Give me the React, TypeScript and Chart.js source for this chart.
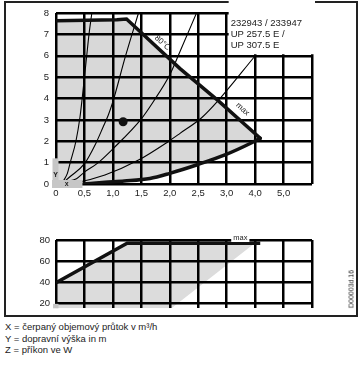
import React, { useEffect, useRef } from 'react';
import { Chart, registerables } from 'chart.js';

Chart.register(...registerables);

const FONT = "'Liberation Sans', Arial, sans-serif";

// tick labels (as printed in the original; grid spacing is 0.5 units)
const X_TICK_LABELS = ['0', '0,5', '1,0', '1,5', '2,0', '2,5', '3,0', '4,0', '5,0', ''];
const Y_TICK_LABELS = ['0', '1', '2', '3', '4', '5', '6', '7', '8'];
const P_TICKS = [20, 40, 60, 80];
const P_MIN = 15.3;

// pump head curves [x, H]
const MAX_CURVE: [number, number][] = [[0, 7.64], [1.07, 7.68], [1.24, 7.72], [2.18, 5.4], [2.85, 3.9], [3.59, 2.14]];
const MIN_CURVE: [number, number][] = [[0.48, 0], [0.86, 0.08], [1.2, 0.14], [1.65, 0.26], [2.0, 0.5], [2.47, 0.89], [2.97, 1.36], [3.44, 1.93], [3.59, 2.14]];

// system (throttle) curves
const CURVE_A: [number, number][] = [[0.12, 0.1], [0.2, 0.5], [0.25, 1], [0.35, 2], [0.42, 3.1], [0.46, 4], [0.5, 5], [0.54, 6], [0.58, 7], [0.63, 8]];
const CURVE_B: [number, number][] = [[0.14, 0.1], [0.25, 0.35], [0.5, 0.95], [0.7, 1.9], [0.83, 2.68], [0.92, 3.23], [1.0, 3.85], [1.22, 5.97], [1.45, 8]];
const CURVE_C: [number, number][] = [[0.16, 0.1], [0.36, 0.25], [0.51, 0.58], [0.72, 0.95], [1.01, 1.67], [1.5, 3.05], [1.71, 3.85], [2.0, 5.11], [2.18, 6.2], [2.47, 8]];
const CURVE_D: [number, number][] = [[0.2, 0.02], [0.33, 0.05], [0.86, 0.42], [1.45, 1.12], [1.97, 1.98], [2.18, 2.37], [2.56, 3.1], [2.85, 3.9], [3.48, 5.93]];

const DUTY_POINT: [number, number][] = [[1.18, 2.91]];

// power curve [x, P]
const POWER_LINE: [number, number][] = [[0, 39.5], [1.25, 77], [3.59, 77]];
const POWER_AREA: [number, number][] = [[0, P_MIN], [0, 39.5], [1.25, 77], [3.47, 76], [2.03, P_MIN]];

const LEGEND_LINES = ['232943 / 233947', 'UP 257.5 E /', 'UP 307.5 E'];
const LEGEND_Y = [7.5, 7.0, 6.5];
const FOOTNOTES = ['X = čerpaný objemový průtok v m³/h', 'Y = dopravní výška in m', 'Z = příkon ve W'];
const DOC_CODE = 'D00003d.16';

const pts = (a: [number, number][]) => a.map(([x, y]) => ({ x, y }));

const FILL_POLY = [[0, 0] as [number, number], ...MAX_CURVE, ...MIN_CURVE.slice().reverse().slice(1)];

const gridOpts = () => ({ color: '#000000', lineWidth: 2.5, drawTicks: false, display: true });

const topDecor = {
  id: 'topDecor',
  beforeDatasetsDraw(chart: any) {
    const { ctx, scales } = chart;
    const x = scales.x, y = scales.y;
    ctx.save();
    const bx = x.getPixelForValue(3.0) + 2;
    ctx.fillStyle = '#fff';
    ctx.fillRect(bx, 0, x.right + 3 - bx, y.getPixelForValue(6) - 1.5);
    ctx.fillStyle = '#222';
    ctx.font = `9.5px ${FONT}`;
    ctx.textAlign = 'left';
    ctx.textBaseline = 'middle';
    LEGEND_LINES.forEach((t, i) => ctx.fillText(t, bx + 2, y.getPixelForValue(LEGEND_Y[i])));
    ctx.restore();
  },
  afterDatasetsDraw(chart: any) {
    const { ctx, scales } = chart;
    const x = scales.x, y = scales.y;
    const l = x.getPixelForValue(0), b = y.getPixelForValue(0);
    ctx.save();
    ctx.fillStyle = '#c6c6c6';
    ctx.fillRect(l - 3.5, y.getPixelForValue(1.2), 6, b - y.getPixelForValue(1.2));
    ctx.fillRect(l - 4, b - 4, x.getPixelForValue(0.5) - l + 2, 8);
    ctx.fillStyle = '#222';
    ctx.font = `bold 7px ${FONT}`;
    ctx.textAlign = 'center';
    ctx.textBaseline = 'middle';
    ctx.fillText('Y', l - 0.5, y.getPixelForValue(0.42));
    ctx.fillText('x', x.getPixelForValue(0.19), b);
    // rotated labels on max curve
    const p1 = MAX_CURVE[2], p2 = MAX_CURVE[MAX_CURVE.length - 1];
    const ang = Math.atan2(y.getPixelForValue(p2[1]) - y.getPixelForValue(p1[1]), x.getPixelForValue(p2[0]) - x.getPixelForValue(p1[0]));
    ctx.font = `8px ${FONT}`;
    const lab = (t: string, vx: number, vy: number) => {
      ctx.save();
      ctx.translate(x.getPixelForValue(vx), y.getPixelForValue(vy));
      ctx.rotate(ang);
      ctx.fillText(t, 0, 0);
      ctx.restore();
    };
    lab('80°C', 1.87, 6.6);
    lab('max', 3.28, 3.5);
    ctx.restore();
  },
};

const bottomDecor = {
  id: 'bottomDecor',
  afterDatasetsDraw(chart: any) {
    const { ctx, scales } = chart;
    const x = scales.x, y = scales.y;
    ctx.save();
    const l = x.getPixelForValue(0);
    ctx.fillStyle = '#c6c6c6';
    ctx.fillRect(l - 3, y.getPixelForValue(19.5), 5.5, y.getPixelForValue(P_MIN) - y.getPixelForValue(19.5));
    ctx.font = `7.5px ${FONT}`;
    ctx.textAlign = 'center';
    ctx.textBaseline = 'middle';
    const cx = x.getPixelForValue(3.24), cy = y.getPixelForValue(80);
    const w = ctx.measureText('max').width + 4;
    ctx.fillStyle = '#fff';
    ctx.fillRect(cx - w / 2, cy - 2, w, 4);
    ctx.fillStyle = '#222';
    ctx.fillText('max', cx, cy - 2);
    ctx.restore();
  },
};

export default function App() {
  const topRef = useRef<HTMLCanvasElement>(null);
  const botRef = useRef<HTMLCanvasElement>(null);

  useEffect(() => {
    const thin = (d: [number, number][]) => ({
      data: pts(d), borderColor: '#000', borderWidth: 1.1, pointRadius: 0,
      cubicInterpolationMode: 'monotone' as const, fill: false, order: 5,
    });
    const top = new Chart(topRef.current!, {
      type: 'line',
      data: {
        datasets: [
          { data: pts(FILL_POLY), fill: 'shape', backgroundColor: '#d8d8d8', borderColor: 'rgba(0,0,0,0)', borderWidth: 0, pointRadius: 0, tension: 0, order: 10 } as any,
          thin(CURVE_A), thin(CURVE_B), thin(CURVE_C), thin(CURVE_D),
          { data: pts(MIN_CURVE), borderColor: '#111', borderWidth: 3.5, pointRadius: 0, cubicInterpolationMode: 'monotone', borderCapStyle: 'round', fill: false, order: 2 },
          { data: pts(MAX_CURVE), borderColor: '#111', borderWidth: 3.5, pointRadius: 0, tension: 0, borderCapStyle: 'round', borderJoinStyle: 'miter', fill: false, order: 2 },
          { data: pts(DUTY_POINT), showLine: false, pointRadius: 4.5, pointBackgroundColor: '#111', pointBorderWidth: 0, order: 1 },
        ],
      },
      options: {
        responsive: false, animation: false, events: [],
        layout: { padding: { left: 0, top: 13, right: 50, bottom: 0 } },
        plugins: { legend: { display: false }, tooltip: { enabled: false }, filler: { drawTime: 'beforeDraw' } } as any,
        scales: {
          x: {
            type: 'linear', min: 0, max: 4.5,
            afterFit: (s: any) => { s.height = 21; },
            ticks: { stepSize: 0.5, autoSkip: false, maxRotation: 0, padding: 4, color: '#222', font: { family: FONT, size: 9.5 }, callback: (_v: any, i: number) => X_TICK_LABELS[i] ?? '' },
            grid: gridOpts(), border: { display: false },
          },
          y: {
            type: 'linear', min: 0, max: 8,
            afterFit: (s: any) => { s.width = 56; },
            ticks: { stepSize: 1, padding: 7, color: '#222', font: { family: FONT, size: 9.5 }, callback: (_v: any, i: number) => Y_TICK_LABELS[i] ?? '' },
            grid: gridOpts(), border: { display: false },
          },
        },
      },
      plugins: [topDecor],
    });

    const bot = new Chart(botRef.current!, {
      type: 'line',
      data: {
        datasets: [
          { data: pts(POWER_AREA), fill: 'shape', backgroundColor: '#dcdcdc', borderColor: 'rgba(0,0,0,0)', borderWidth: 0, pointRadius: 0, tension: 0, order: 10 } as any,
          { data: pts(POWER_LINE), borderColor: '#111', borderWidth: 3.5, pointRadius: 0, tension: 0, fill: false, order: 1 },
        ],
      },
      options: {
        responsive: false, animation: false, events: [],
        layout: { padding: { left: 0, top: 15, right: 50, bottom: 0 } },
        plugins: { legend: { display: false }, tooltip: { enabled: false }, filler: { drawTime: 'beforeDraw' } } as any,
        scales: {
          x: {
            type: 'linear', min: 0, max: 4.5,
            afterFit: (s: any) => { s.height = 4; },
            ticks: { stepSize: 0.5, display: false },
            grid: gridOpts(), border: { display: false },
          },
          y: {
            type: 'linear', min: P_MIN, max: 80,
            afterBuildTicks: (s: any) => { s.ticks = P_TICKS.map((v) => ({ value: v })); },
            afterFit: (s: any) => { s.width = 56; },
            ticks: { padding: 6, color: '#222', font: { family: FONT, size: 9.5 }, callback: (v: any) => String(v) },
            grid: gridOpts(), border: { display: false },
          },
        },
      },
      plugins: [bottomDecor],
    });

    return () => { top.destroy(); bot.destroy(); };
  }, []);

  return (
    <div style={{ position: 'absolute', left: 0, top: 0, width: 362, height: 377, background: '#fff', overflow: 'hidden', fontFamily: FONT }}>
      <div style={{ position: 'absolute', left: 4, top: 1, width: 354, height: 316, border: '2px solid #222', boxSizing: 'border-box' }} />
      <canvas ref={topRef} width={362} height={205} style={{ position: 'absolute', left: 0, top: 0 }} />
      <canvas ref={botRef} width={362} height={95} style={{ position: 'absolute', left: 0, top: 225 }} />
      <div style={{ position: 'absolute', left: 351, top: 289, transform: 'translate(-50%, -50%) rotate(-90deg)', fontSize: 7, color: '#222', whiteSpace: 'nowrap' }}>{DOC_CODE}</div>
      <div style={{ position: 'absolute', left: 5, top: 321, fontSize: 9.5, lineHeight: '11.5px', color: '#222' }}>
        {FOOTNOTES.map((t) => <div key={t}>{t}</div>)}
      </div>
    </div>
  );
}
